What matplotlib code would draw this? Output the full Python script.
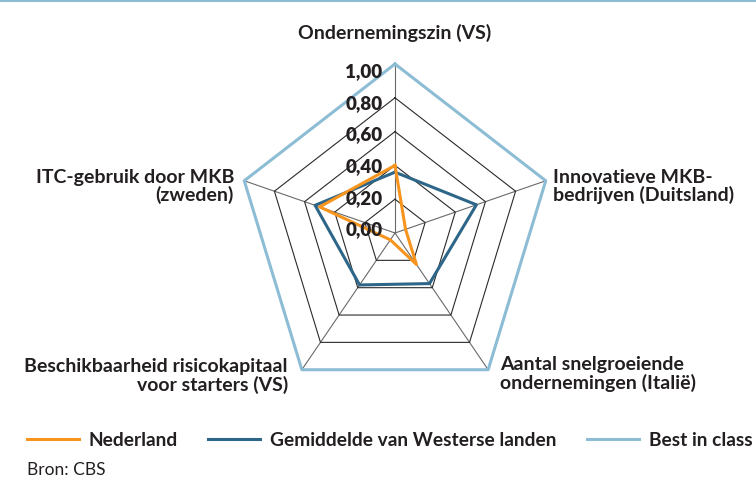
import matplotlib.pyplot as plt
import numpy as np

plt.rcParams['font.family'] = ['Lato', 'DejaVu Sans']

# data
axis_labels = ['Ondernemingszin (VS)', 'Innovatieve MKB-\nbedrijven (Duitsland)',
               'Aantal snelgroeiende\nondernemingen (Italië)',
               'Beschikbaarheid risicokapitaal\nvoor starters (VS)',
               'ITC-gebruik door MKB\n(zweden)']
nederland = [0.40, 0.07, 0.23, 0.05, 0.50]
gemiddelde = [0.36, 0.54, 0.37, 0.38, 0.53]
best_in_class = [1.0, 1.0, 1.0, 1.0, 1.0]
grid_levels = [0.0, 0.2, 0.4, 0.6, 0.8, 1.0]
grid_labels = ['0,00', '0,20', '0,40', '0,60', '0,80', '1,00']

ORANGE = '#f7941d'
DARKBLUE = '#2d6688'
LIGHTBLUE = '#8dbdd5'
TXT = '#231f20'

W, H = 756, 481
fig = plt.figure(figsize=(W / 100, H / 100), dpi=100)

# top rule
fig.add_artist(plt.Line2D([0, 1], [1 - 1.2 / H, 1 - 1.2 / H], color=LIGHTBLUE, lw=2.2))

# radar axes (cartesian, slightly stretched like the original)
cx, cy, rx, ry = 395, 234, 158.5, 169
ax = fig.add_axes([(cx - 1.1 * rx) / W, 1 - (cy + 1.1 * ry) / H, 2.2 * rx / W, 2.2 * ry / H])
ax.set_xlim(-1.1, 1.1)
ax.set_ylim(-1.1, 1.1)
ax.axis('off')

theta = np.deg2rad(np.arange(5) * 72)
sx, sy = np.sin(theta), np.cos(theta)

def ring(vals):
    v = np.asarray(vals)
    x = v * sx
    y = v * sy
    return np.append(x, x[0]), np.append(y, y[0])

# spokes
for i in range(5):
    ax.plot([0, sx[i]], [0, sy[i]], color='#6a6a6a', lw=0.8, zorder=1)

# grid pentagons
for lv in grid_levels[1:-1]:
    gx, gy = ring([lv] * 5)
    ax.plot(gx, gy, color='#2a2a2a', lw=0.8, zorder=1)

# series
bx, by = ring(best_in_class)
ax.plot(bx, by, color=LIGHTBLUE, lw=2.2, zorder=2)
gx, gy = ring(gemiddelde)
ax.plot(gx, gy, color=DARKBLUE, lw=2.2, zorder=3)
nx, ny = ring(nederland)
ax.plot(nx, ny, color=ORANGE, lw=2.2, zorder=4)

# radial tick labels (placed a bit inside the rings, as in the source)
for lv, lab in zip(grid_levels, grid_labels):
    ax.text(-0.08, 0.024 + 0.936 * lv, lab, ha='right', va='center', fontsize=13.5,
            fontweight='heavy', color=TXT, zorder=5)

# axis labels
lab_kw = dict(fontsize=14, fontweight='bold', color=TXT, linespacing=1.05)
fig.text(395 / W, 1 - 33 / H, axis_labels[0], ha='center', va='center', **lab_kw)
fig.text(553 / W, 1 - 186.5 / H, axis_labels[1], ha='left', va='center', **lab_kw)
fig.text(500 / W, 1 - 374 / H, axis_labels[2], ha='left', va='center', **lab_kw)
fig.text(288 / W, 1 - 376 / H, axis_labels[3], ha='right', va='center',
         multialignment='right', **lab_kw)
fig.text(234 / W, 1 - 186.5 / H, axis_labels[4], ha='right', va='center',
         multialignment='right', **lab_kw)

# legend
legend_items = [('Nederland', ORANGE, 27), ('Gemiddelde van Westerse landen', DARKBLUE, 208),
                ('Best in class', LIGHTBLUE, 587)]
ly = 1 - 440 / H
for name, col, x0 in legend_items:
    fig.add_artist(plt.Line2D([x0 / W, (x0 + 52) / W], [ly, ly], color=col, lw=2.2))
    fig.text((x0 + 62) / W, ly, name, ha='left', va='center', fontsize=13.8,
             fontweight='bold', color=TXT)

fig.text(27 / W, 1 - 470 / H, 'Bron: CBS', ha='left', va='center', fontsize=12.5, color=TXT)

fig.savefig('out.png', dpi=100)
